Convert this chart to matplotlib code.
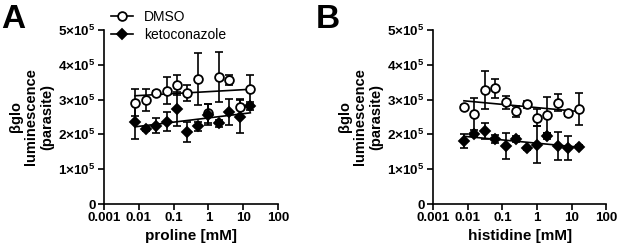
import matplotlib
matplotlib.use("Agg")
import matplotlib.pyplot as plt
import numpy as np

plt.rcParams['font.family'] = ['Liberation Sans', 'DejaVu Sans']
plt.rcParams['mathtext.fontset'] = 'custom'
plt.rcParams['mathtext.rm'] = 'Liberation Sans:bold'
plt.rcParams['mathtext.bf'] = 'Liberation Sans:bold'

# concentrations (mM), 2-fold dilution series
conc = [0.0078, 0.0156, 0.03125, 0.0625, 0.125, 0.25, 0.5, 1, 2, 4, 8, 16]

# panel A: proline, values in units of 1e5
pro_dmso = [2.91, 2.99, 3.20, 3.26, 3.42, 3.18, 3.58, 2.60, 3.64, 3.57, 2.78, 3.30]
pro_dmso_err = [0.39, 0.31, 0.04, 0.38, 0.28, 0.23, 0.75, 0.27, 0.72, 0.15, 0.24, 0.42]
pro_keto = [2.36, 2.15, 2.25, 2.37, 2.73, 2.07, 2.24, 2.56, 2.32, 2.64, 2.51, 2.82]
pro_keto_err = [0.48, 0.05, 0.22, 0.26, 0.50, 0.29, 0.13, 0.30, 0.10, 0.38, 0.48, 0.12]

# panel B: histidine
his_dmso = [2.80, 2.59, 3.28, 3.32, 2.92, 2.66, 2.86, 2.48, 2.56, 2.91, 2.61, 2.74]
his_dmso_err = [0.03, 0.45, 0.55, 0.27, 0.18, 0.16, 0.11, 0.24, 0.52, 0.24, 0.07, 0.46]
his_keto = [1.81, 2.00, 2.10, 1.86, 1.67, 1.86, 1.60, 1.70, 1.95, 1.67, 1.60, 1.65]
his_keto_err = [0.20, 0.05, 0.23, 0.12, 0.37, 0.08, 0.04, 0.53, 0.08, 0.40, 0.35, 0.04]

yticks = [0, 1e5, 2e5, 3e5, 4e5, 5e5]
ylabels = ['0'] + [r'$\mathbf{%d{\times}10^5}$' % i for i in range(1, 6)]


def panel(ax, dmso, dmso_err, keto, keto_err, xlabel):
    x = np.array(conc)
    lx = np.log10(x)
    for y, e, mk, fc in [(dmso, dmso_err, 'o', 'white'), (keto, keto_err, 'D', 'black')]:
        y = np.array(y) * 1e5
        e = np.array(e) * 1e5
        ax.errorbar(x, y, yerr=e, fmt='none', ecolor='black', elinewidth=1.2,
                    capsize=3, capthick=1.2, zorder=2)
        # semilog linear fit
        p = np.polyfit(lx, y, 1)
        ax.plot(x, np.polyval(p, lx), color='black', lw=1.2, zorder=3)
        ms = 6.3 if mk == 'o' else 5.2
        ax.plot(x, y, mk, ms=ms, mfc=fc, mec='black', mew=1.3, zorder=4)
    ax.set_xscale('log')
    ax.set_xlim(0.001, 100)
    ax.set_ylim(0, 5e5)
    ax.set_xticks([0.001, 0.01, 0.1, 1, 10, 100])
    ax.set_xticklabels(['0.001', '0.01', '0.1', '1', '10', '100'])
    ax.set_yticks(yticks)
    ax.set_yticklabels(ylabels)
    for s in ['top', 'right']:
        ax.spines[s].set_visible(False)
    for s in ['left', 'bottom']:
        ax.spines[s].set_linewidth(1.2)
    ax.tick_params(which='major', length=4, width=1.2, labelsize=9.7, pad=2)
    ax.tick_params(which='minor', length=2, width=0.8)
    for t in ax.get_xticklabels() + ax.get_yticklabels():
        t.set_fontweight('bold')
    ax.set_xlabel(xlabel, fontsize=11, fontweight='bold', labelpad=3)
    ax.set_ylabel('βglo\nluminescence\n(parasite)', fontsize=10.5, fontweight='bold',
                  linespacing=1.15, labelpad=3)


fig = plt.figure(figsize=(6.17, 2.49), dpi=100)
axA = fig.add_axes([0.1686, 0.1807, 0.282, 0.699])
axB = fig.add_axes([0.7018, 0.1807, 0.281, 0.699])
panel(axA, pro_dmso, pro_dmso_err, pro_keto, pro_keto_err, 'proline [mM]')
panel(axB, his_dmso, his_dmso_err, his_keto, his_keto_err, 'histidine [mM]')

# legend on panel A
h1, = axA.plot([], [], '-o', color='black', mfc='white', ms=6.3, mew=1.3, lw=1.2)
h2, = axA.plot([], [], '-D', color='black', mfc='black', ms=5.2, mew=1.3, lw=1.2)
axA.legend([h1, h2], ['DMSO', 'ketoconazole'], loc='lower left',
           bbox_to_anchor=(0.04, 0.93), frameon=False, fontsize=10,
           handlelength=1.6, handletextpad=0.8, labelspacing=0.3,
           borderaxespad=0, borderpad=0)

fig.text(0.002, 0.985, 'A', fontsize=24, fontweight='bold', va='top', ha='left')
fig.text(0.512, 0.985, 'B', fontsize=24, fontweight='bold', va='top', ha='left')

fig.savefig('out.png', dpi=100)
